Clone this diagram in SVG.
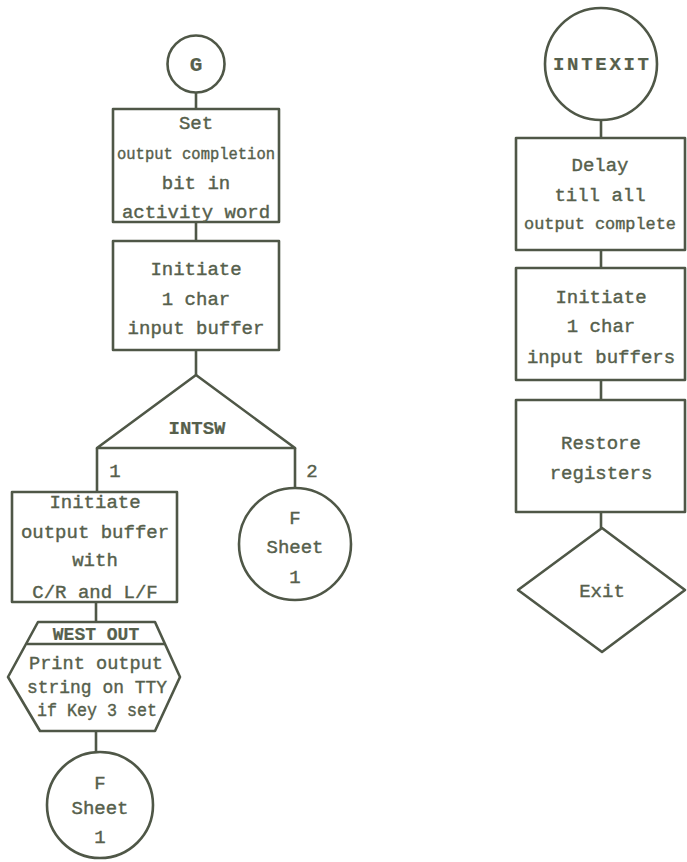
<svg xmlns="http://www.w3.org/2000/svg" width="687" height="862" viewBox="0 0 687 862">
<style>
.s{fill:none;stroke:#4f5747;stroke-width:2.6;stroke-linejoin:round}
.t{font-family:"Liberation Mono","DejaVu Sans Mono",monospace;font-size:19px;fill:#56604c;stroke:#56604c;stroke-width:0.4;text-anchor:middle}
.b{font-weight:bold;stroke-width:0.2}
.n{font-size:17px}
</style>
<rect width="687" height="862" fill="#ffffff"/>
<g id="connectors">
<g class="s">
<line x1="196" y1="93" x2="196" y2="109"/>
<line x1="196" y1="222" x2="196" y2="241"/>
<line x1="196" y1="350" x2="196" y2="375"/>
<line x1="97" y1="448" x2="97" y2="492"/>
<line x1="295" y1="448" x2="295" y2="488"/>
<line x1="96" y1="602" x2="96" y2="622"/>
<line x1="96" y1="731" x2="96" y2="752"/>
<line x1="601" y1="120" x2="601" y2="138"/>
<line x1="601" y1="250" x2="601" y2="268"/>
<line x1="601" y1="380" x2="601" y2="400"/>
<line x1="601" y1="512" x2="601" y2="528"/>
</g>
<text class="t" x="115" y="477">1</text>
<text class="t" x="312" y="477">2</text>
</g>
<g id="G">
<circle class="s" cx="196" cy="64" r="28.5"/>
<text class="t b" x="196" y="71" style="font-size:21px">G</text>
</g>
<g id="set_bit">
<rect class="s" x="113" y="109" width="166" height="113"/>
<text class="t" x="196" y="129">Set</text>
<text class="t n" x="196" y="159" textLength="158" lengthAdjust="spacingAndGlyphs">output completion</text>
<text class="t" x="196" y="189">bit in</text>
<text class="t" x="196" y="218">activity word</text>
</g>
<g id="init_input">
<rect class="s" x="113" y="241" width="166" height="109"/>
<text class="t" x="196" y="275">Initiate</text>
<text class="t" x="196" y="305">1 char</text>
<text class="t" x="196" y="334">input buffer</text>
</g>
<g id="INTSW">
<polygon class="s" points="196,375 295,448 97,448"/>
<text class="t b" x="197" y="434">INTSW</text>
</g>
<g id="init_output">
<rect class="s" x="12" y="492" width="165" height="110"/>
<text class="t" x="95" y="508">Initiate</text>
<text class="t" x="95" y="538">output buffer</text>
<text class="t" x="95" y="566">with</text>
<text class="t" x="95" y="598">C/R and L/F</text>
</g>
<g id="F_sheet1_right">
<circle class="s" cx="295" cy="544" r="56"/>
<text class="t" x="295" y="524">F</text>
<text class="t" x="295" y="553">Sheet</text>
<text class="t" x="295" y="583">1</text>
</g>
<g id="WESTOUT">
<polygon class="s" points="38,622 155,622 180,677 155,731 40,731 8,677"/>
<line class="s" x1="27" y1="644" x2="165" y2="644"/>
<text class="t b" x="96" y="640" style="font-size:18px">WEST OUT</text>
<text class="t" x="96" y="669" textLength="134" lengthAdjust="spacingAndGlyphs">Print output</text>
<text class="t" x="97" y="693" textLength="140" lengthAdjust="spacingAndGlyphs">string on TTY</text>
<text class="t" x="97" y="716" textLength="120" lengthAdjust="spacingAndGlyphs">if Key 3 set</text>
</g>
<g id="F_sheet1_bottom">
<circle class="s" cx="100" cy="805" r="53"/>
<text class="t" x="100" y="789">F</text>
<text class="t" x="100" y="814">Sheet</text>
<text class="t" x="100" y="843">1</text>
</g>
<g id="INTEXIT">
<circle class="s" cx="601" cy="64" r="56"/>
<text class="t b" x="601" y="70" textLength="96" lengthAdjust="spacing">INTEXIT</text>
</g>
<g id="delay">
<rect class="s" x="516" y="138" width="169" height="112"/>
<text class="t" x="600" y="171">Delay</text>
<text class="t" x="600" y="201">till all</text>
<text class="t n" x="600" y="229" textLength="152" lengthAdjust="spacingAndGlyphs">output complete</text>
</g>
<g id="init_buffers">
<rect class="s" x="516" y="268" width="169" height="112"/>
<text class="t" x="601" y="303">Initiate</text>
<text class="t" x="601" y="332">1 char</text>
<text class="t" x="601" y="363">input buffers</text>
</g>
<g id="restore">
<rect class="s" x="516" y="400" width="169" height="112"/>
<text class="t" x="601" y="449">Restore</text>
<text class="t" x="601" y="479">registers</text>
</g>
<g id="exit">
<polygon class="s" points="602,528 685,590 602,652 518,590"/>
<text class="t" x="602" y="597">Exit</text>
</g>
</svg>
